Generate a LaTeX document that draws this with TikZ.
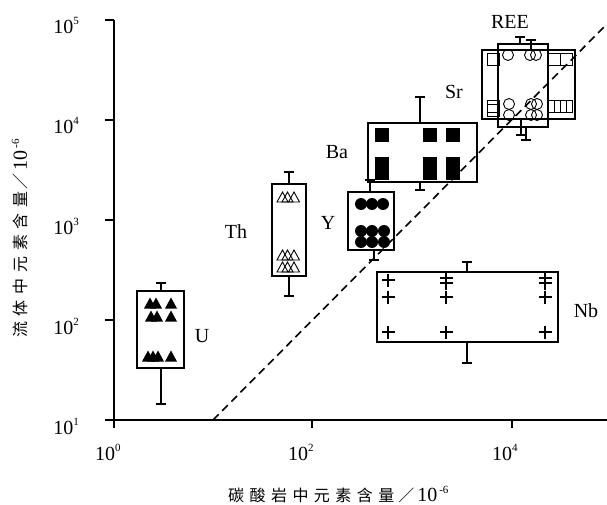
\documentclass[tikz,border=0pt]{standalone}
\usepackage{fontspec}
\setmainfont{Liberation Serif}
\newfontfamily\cjk{Noto Sans CJK SC}
\newcommand{\tenpow}[1]{10\raisebox{9pt}{\fontsize{11}{11}\selectfont #1}}
\newcommand{\lblsize}{\fontsize{20}{20}\selectfont}
\newcommand{\unitpart}{{\fontsize{20}{20}\selectfont\hspace{3pt}10\raisebox{8pt}{\fontsize{11}{11}\selectfont\hspace{2pt}-6}}}
\tikzset{
  axis/.style={line width=1.6pt},
  box/.style={line width=1.3pt},
  mark line/.style={line width=0.9pt},
  elem/.style={inner sep=0pt,font=\lblsize},
}
\begin{document}
\begin{tikzpicture}[x=1pt,y=-1pt]
\useasboundingbox (0,0) rectangle (607,505);
% axes and ticks
\draw[axis] (114,20) -- (114,428);
\draw[axis] (105,420) -- (607,420);
\foreach \t in {20,120,220,320}
  \draw[axis] (105,\t) -- (114,\t);
\foreach \t in {312,512}
  \draw[axis] (\t,420) -- (\t,428);
% tick labels
\node[anchor=base east,inner sep=0pt,font=\lblsize] (y5) at (79,34) {\tenpow{5}};
\node[anchor=base east,inner sep=0pt,font=\lblsize] (y4) at (79,134) {\tenpow{4}};
\node[anchor=base east,inner sep=0pt,font=\lblsize] (y3) at (79,234) {\tenpow{3}};
\node[anchor=base east,inner sep=0pt,font=\lblsize] (y2) at (79,334) {\tenpow{2}};
\node[anchor=base east,inner sep=0pt,font=\lblsize] (y1) at (79,434) {\tenpow{1}};
\node[anchor=base west,inner sep=0pt,font=\lblsize] (x0) at (95,460) {\tenpow{0}};
\node[anchor=base west,inner sep=0pt,font=\lblsize] (x2) at (288,460) {\tenpow{2}};
\node[anchor=base west,inner sep=0pt,font=\lblsize] (x4) at (492,460) {\tenpow{4}};
% axis titles
\node[anchor=base west,inner sep=0pt] (xtitle) at (228,501)
  {{\cjk\fontsize{16}{16}\selectfont\addfontfeatures{LetterSpace=34}碳酸岩中元素含量\hspace{4pt}／}\unitpart};
\node[anchor=base west,inner sep=0pt,rotate=90] (ytitle) at (27,338)
  {{\cjk\fontsize{16}{16}\selectfont\addfontfeatures{LetterSpace=36}流体中元素含量\hspace{2pt}／}\unitpart};
% 1:1 line
\coordinate (d1) at (213,420);
\coordinate (d2) at (607,24);
\draw[line width=1.6pt,dash pattern=on 8pt off 5pt] (d1) -- (d2);
% boxes
\draw[box] (137,291) rectangle (184,368); % U
\draw[box] (272,184) rectangle (306,276); % Th
\draw[box] (348,192) rectangle (394,250); % Y
\draw[box] (368,123) rectangle (477,182); % Ba
\draw[box] (377,272) rectangle (558,342); % Nb
\draw[box] (498,44) rectangle (548,127);  % REE
\draw[box] (482,50) rectangle (575,119);  % Sr
% whiskers
\foreach \x/\a/\b in {161/291/283,161/368/404,289/184/172,289/276/296,
    370/192/180,374/250/260,420/123/97,420/182/190,467/272/262,467/342/363,
    520/44/37,526/127/140,531/50/40,521/119/135}
  \draw[box] (\x,\a) -- (\x,\b) (\x-5,\b) -- (\x+5,\b);
% U
\foreach \x/\y in {150/303,156/303,171/303,151/316,157/316,171/316,
    148/356,153/356,158/356,171/356}
  \fill (\x-6,\y+5.5) -- (\x+6,\y+5.5) -- (\x,\y-5.5) -- cycle;
% Th
\foreach \x/\y in {282.5/197,287.5/197,294/197,282.5/255,287.5/255,294/255,
    282.5/267,287.5/267,294/267}
  \draw[mark line] (\x-5.5,\y+5) -- (\x+5.5,\y+5) -- (\x,\y-5) -- cycle;
% Y
\foreach \x/\y in {361/204,372/204,383/204,361/231,372/231,384/231,
    361/242,372/242,384/242}
  \fill (\x,\y) circle[radius=6];
% Ba
\foreach \x/\y in {382/135,430/135,453/135,382/164,430/164,453/164,
    382/173,430/173,453/173}
  \fill (\x-7,\y-7) rectangle (\x+7,\y+7);
% Nb
\foreach \x/\y in {388/280,446/278,446/283,545/278,545/283,388/297,446/297,
    545/297,388/332,446/332,545/332}
  \draw[box] (\x-6.5,\y) -- (\x+6.5,\y) (\x,\y-6.5) -- (\x,\y+6.5);
% Sr
\foreach \x/\y in {493/59,554/59,566/59,493/106,493/110,554/106,560/106,566/106}
  \draw[mark line] (\x-6,\y-6) rectangle (\x+6,\y+6);
% REE
\foreach \x/\y in {508/55,530/55,536/55,509/104,509/115,531/104,537/104,
    531/115,537/115}
  \draw[mark line] (\x,\y) circle[radius=5.5];
% element labels
\node[elem] (lU) at (202,336) {U};
\node[elem] (lTh) at (236,232) {Th};
\node[elem] (lY) at (328,223) {Y};
\node[elem] (lBa) at (337,152) {Ba};
\node[elem] (lSr) at (454,92) {Sr};
\node[elem] (lREE) at (510,22) {REE};
\node[elem] (lNb) at (586,311) {Nb};
\end{tikzpicture}
\end{document}
